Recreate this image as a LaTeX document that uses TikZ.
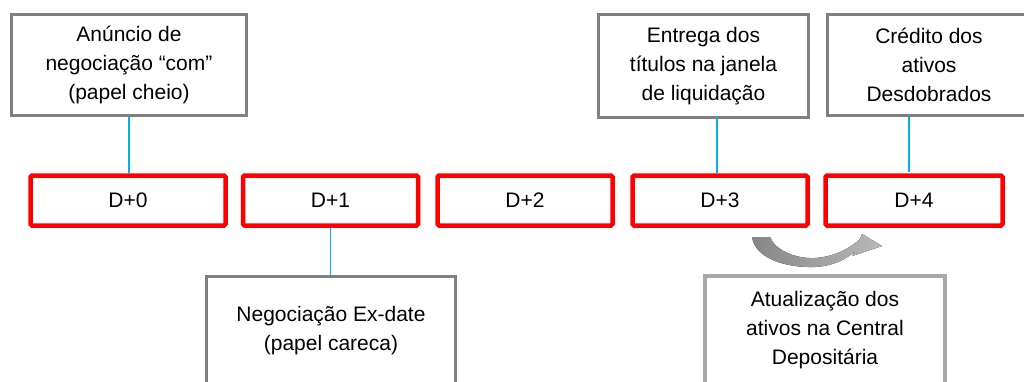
\documentclass[tikz,border=0pt]{standalone}
\usepackage{fontspec}
\setmainfont{Liberation Sans}
\usetikzlibrary{positioning}

\definecolor{cinza}{RGB}{128,128,128}
\definecolor{cinzaclaro}{RGB}{168,168,168}
\definecolor{vermelho}{RGB}{255,0,0}
\definecolor{azul}{RGB}{0,176,240}

\begin{document}
\begin{tikzpicture}[x=1pt,y=-1pt,
    dia/.style={draw=vermelho, line width=4.5pt, rounded corners=1.5pt, minimum height=50pt, inner sep=0pt},
    nota/.style={draw=cinza, line width=3pt, align=center, inner sep=0pt},
    liga/.style={draw=azul, line width=2pt},
    every node/.style={font=\fontsize{21}{29}\selectfont}]
  \clip (0,0) rectangle (1024,381);

  % dias da liquidacao
  \foreach \n/\x/\w in {0/128/195, 1/330.5/175, 2/525/175, 3/720/175, 4/914/177}{
    \node[dia, minimum width=\w pt](d\n) at (\x, 200.5){D+\n};
  }

  % eventos acima da linha
  \node[nota, minimum width=235pt, minimum height=101pt](t0) at (129, 65)
    {An\'uncio de\\negocia\c{c}\~ao “com”\\(papel cheio)};
  \node[nota, minimum width=210pt, minimum height=103pt](t3) at (703.5, 66)
    {Entrega dos\\t\'itulos na janela\\de liquida\c{c}\~ao};
  \node[nota, minimum width=203pt, minimum height=101pt](t4) at (929, 65)
    {Cr\'edito dos\\ativos\\Desdobrados};

  % eventos abaixo da linha
  \node[nota, minimum width=249pt, minimum height=108pt](b1) at (331, 330.5)
    {Negocia\c{c}\~ao Ex-date\\(papel careca)};
  \node[nota, draw=cinzaclaro, line width=4pt, minimum width=240pt, minimum height=108pt](b3) at (825, 330)
    {Atualiza\c{c}\~ao dos\\ativos na Central\\Deposit\'aria};

  \draw[liga] (t0.south) -- (t0.south |- d0.north);
  \draw[liga] (d3.north) ++(-3,0) -- ++(0,-55);
  \draw[liga] (t4.south) ++(-20,0) -- ++(0,55);
  \draw[liga, line width=1.5pt] (d1.south) -- (d1.south |- b1.north);

  % seta curva de D+3 para D+4
  \fill[left color=gray!95, right color=gray!55]
    (752,237) .. controls (755,258) and (785,268) .. (815,267)
    .. controls (832,266) and (846,260) .. (855,251)
    -- (852,256) -- (882,246) -- (862,234) -- (860,239)
    .. controls (848,250) and (832,257) .. (815,258)
    .. controls (795,259) and (775,250) .. (770,237) -- cycle;
\end{tikzpicture}
\end{document}
